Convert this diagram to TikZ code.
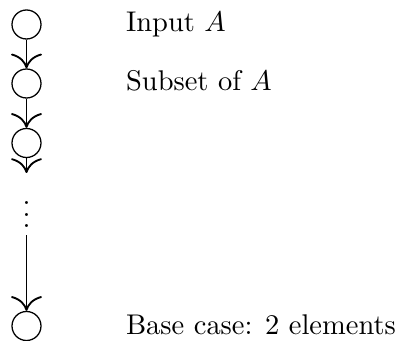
\documentclass[tikz,border=0pt]{standalone}
\usetikzlibrary{arrows.meta}
\begin{document}
\begin{tikzpicture}[x=0.351pt,y=-0.351pt,
  state/.style={draw,circle,minimum size=29*0.351pt,inner sep=0pt,line width=0.45pt},
  lbl/.style={anchor=base west,inner sep=0pt},
  conn/.style={-{To[scale=2,line width=0.65pt]},line width=0.45pt}]
\useasboundingbox (0,0) rectangle (403,341);
\node[state] (c1) at (26.5,24.5) {};
\node[state] (c2) at (26.5,83.5) {};
\node[state] (c3) at (26.5,143) {};
\node[state] (c4) at (26.5,326) {};
\node[inner sep=0pt,anchor=center] (dots) at (26.5,206) {$\vdots$};
\coordinate (e3) at (26.5,173);
\coordinate (s4) at (26.5,235);
\draw[conn] (c1) -- (c2);
\draw[conn] (c2) -- (c3);
\draw[conn] (c3) -- (e3);
\draw[conn] (s4) -- (c4);
\node[lbl] (t1) at (125.5,32) {Input $A$};
\node[lbl] (t2) at (125.5,91) {Subset of $A$};
\node[lbl] (t4) at (125.5,334) {Base case: 2 elements};
\end{tikzpicture}
\end{document}
